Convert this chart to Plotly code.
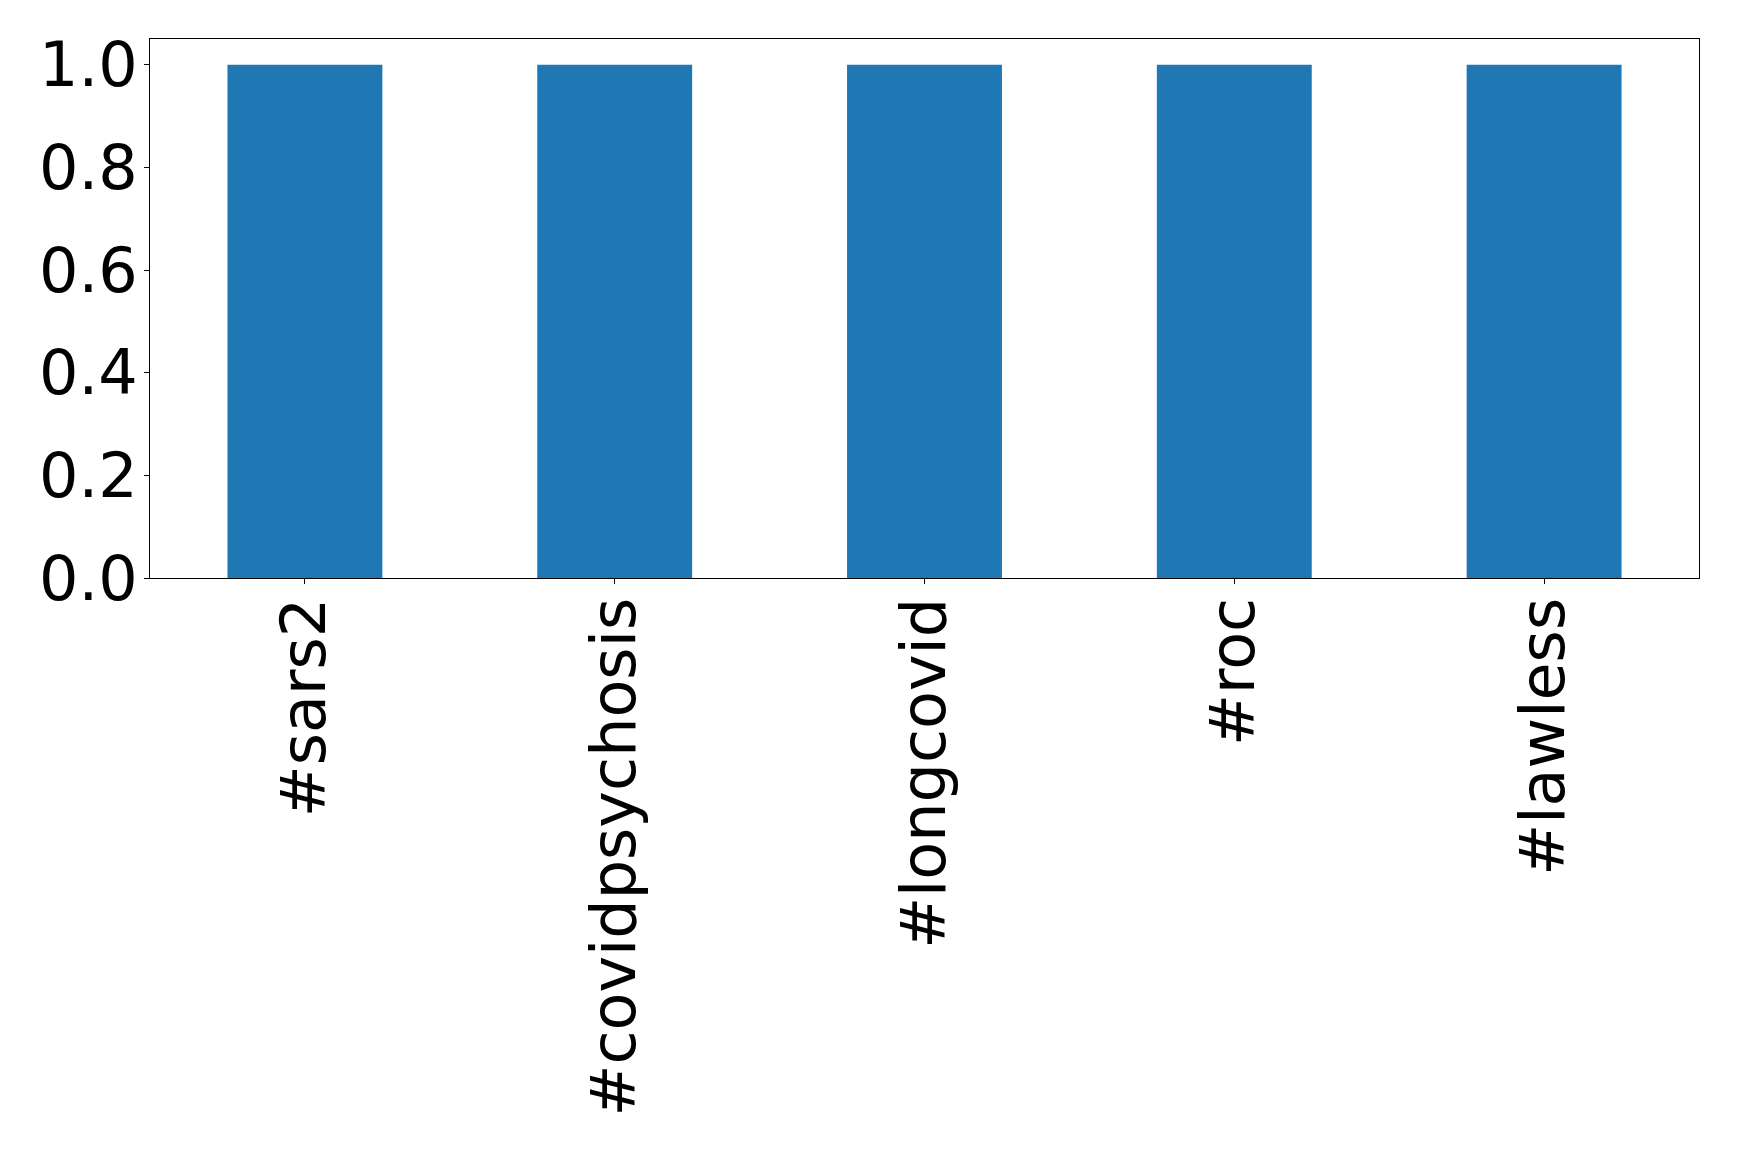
import plotly.graph_objects as go

categories = ["#sars2", "#covidpsychosis", "#longcovid", "#roc", "#lawless"]
values = [1, 1, 1, 1, 1]
y_ticks = [0.0, 0.2, 0.4, 0.6, 0.8, 1.0]
y_tick_labels = ["0.0", "0.2", "0.4", "0.6", "0.8", "1.0"]

fig = go.Figure(go.Bar(x=categories, y=values, width=0.5, marker=dict(color="#1f77b4", line=dict(width=0))))

font = dict(family="DejaVu Sans", size=62, color="black")
fig.update_layout(
    width=1723, height=1135,
    margin=dict(l=141.5, r=31.7, t=31.3, b=564.7, pad=0, autoexpand=False),
    plot_bgcolor="white", paper_bgcolor="white",
    showlegend=False,
    font=font,
)
fig.update_xaxes(
    range=[-0.5, 4.5], tickangle=-90, tickfont=font, automargin=False,
    showline=True, linecolor="black", linewidth=1, mirror=True,
    ticks="outside", ticklen=5, tickcolor="black", tickwidth=1,
    showgrid=False, zeroline=False, ticklabelstandoff=-11,
)
fig.update_yaxes(
    range=[0, 1.05], tickvals=y_ticks, ticktext=y_tick_labels, tickfont=font, automargin=False,
    showline=True, linecolor="black", linewidth=1, mirror=True,
    ticks="outside", ticklen=5, tickcolor="black", tickwidth=1,
    showgrid=False, zeroline=False, ticklabelstandoff=-6,
)
fig.write_html("out.html")
